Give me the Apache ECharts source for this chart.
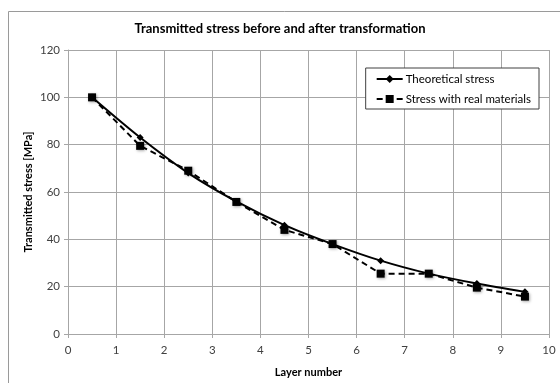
<!DOCTYPE html>
<html>
<head>
<meta charset="utf-8">
<script src="https://cdn.jsdelivr.net/npm/echarts@6/dist/echarts.min.js"></script>
<style>
  html, body { margin: 0; padding: 0; background: #fff; }
  #chart { width: 560px; height: 383px; }
</style>
</head>
<body>
<div id="chart"></div>
<script>
// Layer positions (x) and the two stress profiles (MPa)
const layers = [0.5, 1.5, 2.5, 3.5, 4.5, 5.5, 6.5, 7.5, 8.5, 9.5];
const theoreticalStress = [100, 83, 68, 56, 46, 38, 31, 25.5, 21.3, 17.8];
const realMaterialStress = [100, 79.5, 69, 55.8, 44, 38, 25.5, 25.5, 19.6, 15.8];
const seriesNames = ['Theoretical stress', 'Stress with real materials'];

const fontFamily = 'Lato, "Open Sans", sans-serif';
const gridColor = '#a6a6a6';
const textColor = '#404040';

const chart = echarts.init(document.getElementById('chart'), null, { renderer: 'canvas' });

const pairs = (ys) => layers.map((x, i) => [x, ys[i]]);

chart.setOption({
  animation: false,
  backgroundColor: '#fff',
  graphic: [{
    type: 'rect',
    shape: { x: 8.5, y: 11.5, width: 600, height: 420 },
    style: { fill: 'none', stroke: '#9a9a9a', lineWidth: 1 },
    silent: true
  }],
  title: {
    text: 'Transmitted stress before and after transformation',
    left: 'center',
    top: 17,
    textStyle: { fontFamily, fontSize: 13, fontWeight: 'bold', color: '#000' }
  },
  grid: { left: 68, top: 50, width: 481, height: 285, containLabel: false },
  legend: {
    right: 21,
    top: 68,
    orient: 'vertical',
    itemGap: 8,
    itemWidth: 26,
    itemHeight: 10,
    padding: [5, 8, 4, 10],
    borderColor: '#404040',
    borderWidth: 1,
    backgroundColor: '#fff',
    textStyle: { fontFamily, fontSize: 11.5, color: '#000', padding: [0, 0, 0, -2] },
    data: seriesNames
  },
  xAxis: {
    type: 'value',
    min: 0, max: 10, interval: 1,
    name: 'Layer number',
    nameLocation: 'middle',
    nameGap: 33,
    nameMoveOverlap: false,
    nameTextStyle: { fontFamily, fontSize: 11, fontWeight: 'bold', color: '#000' },
    axisLine: { lineStyle: { color: gridColor } },
    axisTick: { show: true, length: 4, lineStyle: { color: gridColor } },
    axisLabel: { fontFamily, fontSize: 11.5, color: textColor, margin: 10 },
    splitLine: { show: true, lineStyle: { color: gridColor, width: 1 } }
  },
  yAxis: {
    type: 'value',
    min: 0, max: 120, interval: 20,
    name: 'Transmitted stress [MPa]',
    nameLocation: 'middle',
    nameGap: 34,
    nameMoveOverlap: false,
    nameTextStyle: { fontFamily, fontSize: 11, fontWeight: 'bold', color: '#000' },
    axisLine: { show: true, lineStyle: { color: gridColor } },
    axisTick: { show: true, length: 4, lineStyle: { color: gridColor } },
    axisLabel: { fontFamily, fontSize: 11.5, color: textColor, margin: 8 },
    splitLine: { show: true, lineStyle: { color: gridColor, width: 1 } }
  },
  series: [
    {
      name: seriesNames[0],
      type: 'line',
      data: pairs(theoreticalStress),
      smooth: 0.3,
      symbol: 'diamond',
      symbolSize: 7,
      z: 3,
      lineStyle: { color: '#000', width: 2 },
      itemStyle: { color: '#000' }
    },
    {
      name: seriesNames[1],
      type: 'line',
      data: pairs(realMaterialStress),
      smooth: false,
      symbol: 'rect',
      symbolSize: 8,
      z: 2,
      lineStyle: { color: '#000', width: 2, type: [6, 4] },
      itemStyle: { color: '#000', shadowColor: 'rgba(0,0,0,0.35)', shadowBlur: 3, shadowOffsetX: 1, shadowOffsetY: 1 }
    }
  ]
});
</script>
</body>
</html>
